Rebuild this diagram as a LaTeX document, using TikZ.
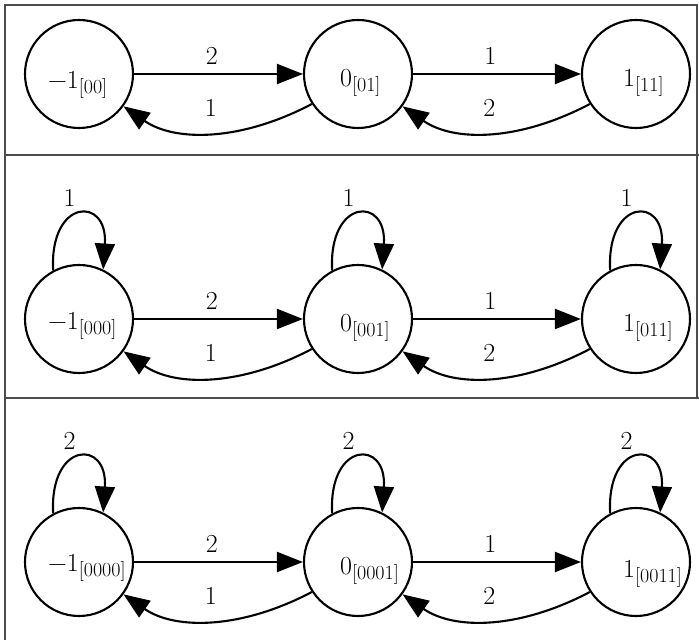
\documentclass[tikz,border=0pt]{standalone}
\usetikzlibrary{arrows.meta}
\newcommand{\stlab}[2]{#1\raisebox{-5pt}{\fontsize{20}{22}\selectfont[#2]}}
\begin{document}
\begin{tikzpicture}[x=1pt,y=1pt,
  state/.style={circle, draw, line width=2.1pt, minimum size=108pt, inner sep=0pt},
  arr/.style={line width=2.1pt, -{Triangle[length=26pt,width=20pt]}},
  lab/.style={font=\fontsize{26}{30}\selectfont, inner sep=0pt},
  nlab/.style={lab, anchor=base west},
  frame/.style={draw=black!70, line width=2pt}]
\useasboundingbox (0,0) rectangle (699,640);
% frames
\draw[frame] (5,0) -- (5,635) -- (697,635) -- (697,242);
\draw[frame] (5,485) -- (699,485);
\draw[frame] (5,242) -- (699,242);

% ---------- panel 1 ----------
\node[state] (a1) at (79,566) {};
\node[state] (b1) at (358,566) {};
\node[state] (c1) at (636,566) {};
\node[nlab] (a1t) at ([xshift=-31pt,yshift=-15pt]a1.center) {\stlab{−1}{00}};
\node[nlab] (b1t) at ([xshift=-18pt,yshift=-13pt]b1.center) {\stlab{0}{01}};
\node[nlab] (c1t) at ([xshift=-13pt,yshift=-13pt]c1.center) {\stlab{1}{11}};
\draw[arr] (a1) -- node[lab, above=8pt, pos=0.46]{2} (b1);
\draw[arr] (b1) -- node[lab, above=8pt, pos=0.46]{1} (c1);
\draw[arr] (b1.213) .. controls +(-70,-37) and +(52,-36) .. node[lab, pos=0.5, above=15pt]{1} (a1.-36);
\draw[arr] (c1.213) .. controls +(-70,-37) and +(52,-36) .. node[lab, pos=0.5, above=15pt]{2} (b1.-36);

% ---------- panel 2 ----------
\node[state] (a2) at (79,321) {};
\node[state] (b2) at (358,321) {};
\node[state] (c2) at (636,321) {};
\node[nlab] (a2t) at ([xshift=-31pt,yshift=-11pt]a2.center) {\stlab{−1}{000}};
\node[nlab] (b2t) at ([xshift=-18pt,yshift=-13pt]b2.center) {\stlab{0}{001}};
\node[nlab] (c2t) at ([xshift=-13pt,yshift=-13pt]c2.center) {\stlab{1}{011}};
\draw[arr] (a2) -- node[lab, above=8pt, pos=0.46]{2} (b2);
\draw[arr] (b2) -- node[lab, above=8pt, pos=0.46]{1} (c2);
\draw[arr] (b2.213) .. controls +(-70,-37) and +(52,-36) .. node[lab, pos=0.5, above=15pt]{1} (a2.-36);
\draw[arr] (c2.213) .. controls +(-70,-37) and +(52,-36) .. node[lab, pos=0.5, above=15pt]{2} (b2.-36);
\draw[arr] (a2.118) .. controls +(-4,72) and +(5,74) .. node[lab, pos=0.5, above=8pt, xshift=-9pt]{1} (a2.64);
\draw[arr] (b2.118) .. controls +(-4,72) and +(5,74) .. node[lab, pos=0.5, above=8pt, xshift=-9pt]{1} (b2.64);
\draw[arr] (c2.118) .. controls +(-4,72) and +(5,74) .. node[lab, pos=0.5, above=8pt, xshift=-9pt]{1} (c2.64);

% ---------- panel 3 ----------
\node[state] (a3) at (79,78) {};
\node[state] (b3) at (358,78) {};
\node[state] (c3) at (636,78) {};
\node[nlab] (a3t) at ([xshift=-31pt,yshift=-10pt]a3.center) {\stlab{−1}{0000}};
\node[nlab] (b3t) at ([xshift=-18pt,yshift=-13pt]b3.center) {\stlab{0}{0001}};
\node[nlab] (c3t) at ([xshift=-13pt,yshift=-16pt]c3.center) {\stlab{1}{0011}};
\draw[arr] (a3) -- node[lab, above=8pt, pos=0.46]{2} (b3);
\draw[arr] (b3) -- node[lab, above=8pt, pos=0.46]{1} (c3);
\draw[arr] (b3.213) .. controls +(-70,-37) and +(52,-36) .. node[lab, pos=0.5, above=15pt]{1} (a3.-36);
\draw[arr] (c3.213) .. controls +(-70,-37) and +(52,-36) .. node[lab, pos=0.5, above=15pt]{2} (b3.-36);
\draw[arr] (a3.118) .. controls +(-4,72) and +(5,74) .. node[lab, pos=0.5, above=8pt, xshift=-9pt]{2} (a3.64);
\draw[arr] (b3.118) .. controls +(-4,72) and +(5,74) .. node[lab, pos=0.5, above=8pt, xshift=-9pt]{2} (b3.64);
\draw[arr] (c3.118) .. controls +(-4,72) and +(5,74) .. node[lab, pos=0.5, above=8pt, xshift=-9pt]{2} (c3.64);
\end{tikzpicture}
\end{document}
